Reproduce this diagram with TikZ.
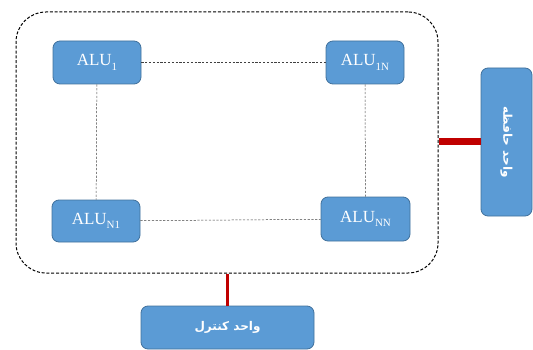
\documentclass[tikz,border=0pt]{standalone}
\usepackage{fontspec}
\setmainfont{Liberation Serif}
\newfontfamily\arabicfont[Script=Arabic]{DejaVu Sans}
\TeXXeTstate=1
\usetikzlibrary{positioning,calc}
\definecolor{unitblue}{RGB}{91,155,213}
\definecolor{unitborder}{RGB}{65,113,156}
\definecolor{busred}{RGB}{192,0,0}
\newcommand{\alusub}[1]{\raisebox{-4.5pt}{\fontsize{11}{11}\selectfont #1}}

\begin{document}
\begin{tikzpicture}[x=1pt, y=-1pt,
  alubox/.style={draw=unitborder, fill=unitblue, rounded corners=7pt, line width=0.8pt, text=white, font=\fontsize{17}{19}\selectfont, inner sep=0pt},
  unitbox/.style={draw=unitborder, fill=unitblue, rounded corners=7pt, line width=0.8pt, text=white, font=\arabicfont\bfseries\fontsize{12}{14}\selectfont, inner sep=0pt},
  link/.style={draw=black!75, line width=0.5pt, dash pattern=on 2.2pt off 1.6pt},
  bus/.style={draw=busred, line cap=butt}]
  \useasboundingbox (0,0) rectangle (533,350);
  % processor array frame
  \node[draw, line width=1pt, dash pattern=on 3pt off 1.8pt, rounded corners=30pt, minimum width=422pt, minimum height=261pt] (frame) at (227,142.5) {};
  % ALUs
  \node[alubox, minimum width=88pt, minimum height=43pt] (alu11) at (97,62.5) {ALU\alusub{1}};
  \node[alubox, minimum width=78pt, minimum height=43pt] (alu1n) at (365,62.5) {ALU\alusub{1N}};
  \node[alubox, minimum width=88pt, minimum height=42pt] (alun1) at (96,221) {ALU\alusub{N1}};
  \node[alubox, minimum width=89pt, minimum height=44pt] (alunn) at (365.5,219) {ALU\alusub{NN}};
  \draw[link] (alu11) -- (alu1n);
  \draw[link] (alu11) -- (alun1);
  \draw[link] (alu1n) -- (alunn);
  \draw[link] (alun1) -- (alunn);
  % memory and control units
  \node[unitbox, rotate=-90, minimum width=148pt, minimum height=51pt] (mem) at (506.5,142) {\beginR واحد حافظه\endR};
  \node[unitbox, minimum width=173pt, minimum height=43pt] (ctrl) at (227.5,327.5) {\beginR واحد کنترل\endR};
  \draw[bus, line width=7pt] (frame.east |- mem.south) -- (mem.south);
  \draw[bus, line width=3pt] (ctrl.north) -- (ctrl.north |- frame.south);
\end{tikzpicture}
\end{document}
